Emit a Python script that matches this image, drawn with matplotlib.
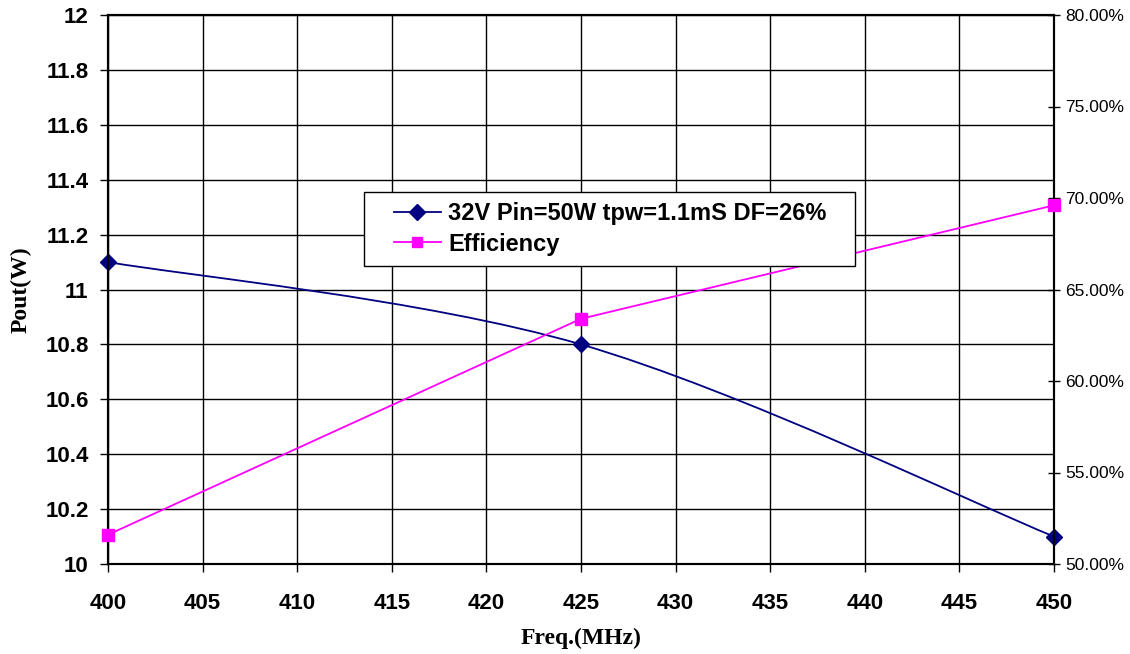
import numpy as np
import matplotlib.pyplot as plt
from matplotlib.path import Path
from matplotlib.patches import PathPatch, Rectangle
from matplotlib.lines import Line2D
from matplotlib.ticker import FuncFormatter

# ---------- data ----------
freq = [400, 425, 450]
pout = [11.1, 10.8, 10.1]
efficiency = [51.6, 63.4, 69.6]   # percent

x_ticks = list(range(400, 451, 5))
y_ticks = [10, 10.2, 10.4, 10.6, 10.8, 11, 11.2, 11.4, 11.6, 11.8, 12]
eff_ticks = [50, 55, 60, 65, 70, 75, 80]

pout_label = "32V Pin=50W tpw=1.1mS DF=26%"
eff_label = "Efficiency"

NAVY = "#000080"
MAGENTA = "#FF00FF"


def smooth_path(xs, ys, t=1 / 6):
    # Excel-style smoothed line: cubic Bezier through the points
    pts = np.column_stack([xs, ys]).astype(float)
    n = len(pts)
    verts = [pts[0]]
    codes = [Path.MOVETO]
    for i in range(n - 1):
        p0 = pts[i - 1] if i > 0 else pts[i]
        p1 = pts[i]
        p2 = pts[i + 1]
        p3 = pts[i + 2] if i + 2 < n else pts[i + 1]
        c1 = p1 + (p2 - p0) * t
        c2 = p2 - (p3 - p1) * t
        verts += [c1, c2, p2]
        codes += [Path.CURVE4] * 3
    return Path(verts, codes)


plt.rcParams['font.family'] = ['Liberation Sans', 'DejaVu Sans']

W, H = 1130, 654
fig = plt.figure(figsize=(W / 100, H / 100), dpi=100)
ax = fig.add_axes([108 / W, 90 / H, 946 / W, 549 / H])
ax2 = ax.twinx()

# Pout (left axis), smoothed line
ax.add_patch(PathPatch(smooth_path(freq, pout), fill=False, edgecolor=NAVY,
                       lw=1.3, zorder=3, clip_on=False))
ax.plot(freq, pout, ls="none", marker="D", ms=8, color=NAVY, zorder=4, clip_on=False)

# Efficiency (right axis)
ax2.plot(freq, efficiency, color=MAGENTA, lw=1.3, marker="s", ms=8,
         zorder=4, clip_on=False)

ax.set_xlim(400, 450)
ax.set_ylim(10, 12)
ax2.set_ylim(50, 80)

ax.set_xticks(x_ticks)
ax.set_yticks(y_ticks)
ax2.set_yticks(eff_ticks)
ax.yaxis.set_major_formatter(FuncFormatter(lambda v, p: f"{v:g}"))
ax2.yaxis.set_major_formatter(FuncFormatter(lambda v, p: f"{v:.2f}%"))

ax.grid(True, color="black", lw=1)
ax.set_axisbelow(True)

for lab in ax.get_xticklabels() + ax.get_yticklabels():
    lab.set_fontweight("bold")
    lab.set_fontsize(16)
ax.tick_params(axis="x", direction="out", length=6, width=1, color="black", pad=15)
ax.tick_params(axis="y", direction="out", length=6, width=1, color="black", pad=8)
ax2.tick_params(axis="y", direction="inout", length=8, width=1, labelsize=12.5, pad=4)

for sp in ax.spines.values():
    sp.set_linewidth(1.5)
for sp in ax2.spines.values():
    sp.set_linewidth(1.5)

ax.set_ylabel("Pout(W)", fontfamily="Liberation Serif", fontweight="bold", fontsize=17, labelpad=10)
ax.set_xlabel("Freq.(MHz)", fontfamily="Liberation Serif", fontweight="bold", fontsize=17, labelpad=10)

# legend box (Excel style: wide horizontal padding)
ax2.add_patch(Rectangle((364 / W, 1 - 266 / H), 491 / W, 74 / H, transform=fig.transFigure,
                        facecolor="white", edgecolor="black", lw=1, zorder=5, clip_on=False))
handles = [
    Line2D([], [], color=NAVY, lw=1.3, marker="D", ms=8),
    Line2D([], [], color=MAGENTA, lw=1.3, marker="s", ms=7),
]
leg = ax2.legend(handles, [pout_label, eff_label], loc="center",
                 bbox_to_anchor=(610 / W, 1 - 229 / H), bbox_transform=fig.transFigure,
                 prop={"weight": "bold", "size": 17}, frameon=False,
                 borderpad=0, labelspacing=0.3,
                 handlelength=2.0, handletextpad=0.3, borderaxespad=0)
leg.set_zorder(6)

fig.savefig("out.png", dpi=100)
